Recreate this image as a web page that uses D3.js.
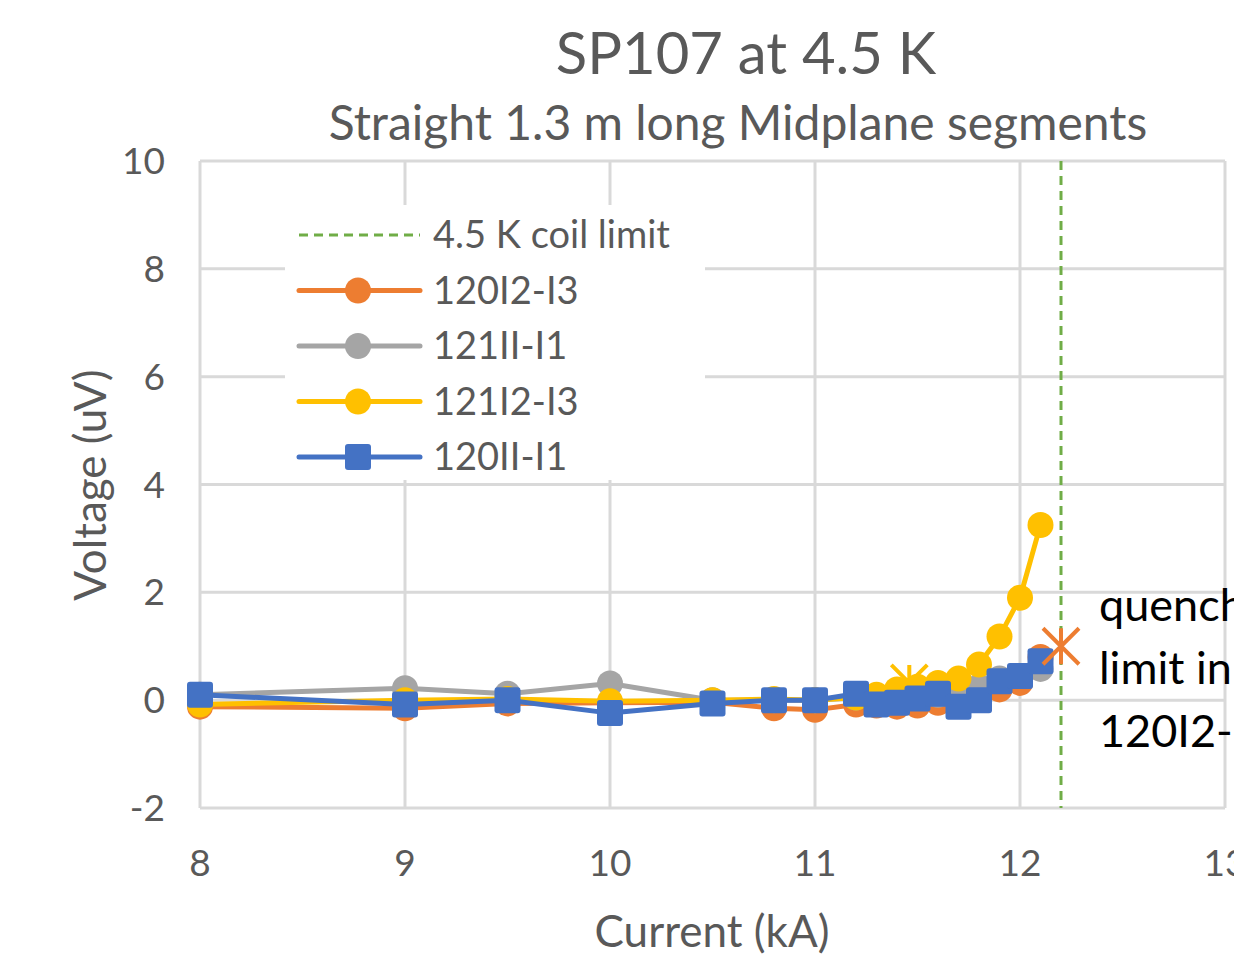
<!DOCTYPE html>
<html>
<head>
<meta charset="utf-8">
<script src="https://cdn.jsdelivr.net/npm/d3@7"></script>
<style>
  body { margin: 0; background: #fff; }
  text { font-family: Lato, "Open Sans", sans-serif; }
</style>
</head>
<body>
<svg id="chart"></svg>
<script>
// current steps (kA), shared by all segments
const current = [8, 9, 9.5, 10, 10.5, 10.8, 11, 11.2, 11.3, 11.4, 11.5, 11.6, 11.7, 11.8, 11.9, 12.0, 12.1];

// voltage readings (uV)
const v120I2I3 = [-0.12, -0.15, -0.06, -0.05, -0.04, -0.15, -0.18, -0.08, -0.1, -0.12, -0.1, -0.05, -0.08, 0.05, 0.2, 0.32, 0.8];
const v121I1I1 = [0.1, 0.22, 0.12, 0.31, 0.0, 0.0, 0.0, 0.05, 0.05, 0.06, 0.06, 0.1, 0.1, 0.25, 0.4, 0.45, 0.58];
const v121I2I3 = [-0.08, 0.0, 0.02, -0.02, 0.0, 0.02, 0.0, 0.05, 0.1, 0.2, 0.25, 0.32, 0.4, 0.66, 1.18, 1.9, 3.25];
const v120I1I1 = [0.1, -0.08, 0.0, -0.24, -0.06, 0.0, 0.0, 0.12, -0.08, -0.05, 0.03, 0.12, -0.12, 0.0, 0.35, 0.45, 0.72];

const seriesNames = ["120I2-I3", "121II-I1", "121I2-I3", "120II-I1"];
const seriesColors = ["#ED7D31", "#A5A5A5", "#FFC000", "#4472C4"];
const seriesShapes = ["circle", "circle", "circle", "square"];
const seriesValues = [v120I2I3, v121I1I1, v121I2I3, v120I1I1];

const coilLimit = 12.2;   // 4.5 K coil limit (kA)
const quenchMarks = [
    { x: 11.46, y: 0.32, color: "#FFC000" },
    { x: 12.2, y: 1.0, color: "#ED7D31" }
];
const quenchNote = ["quench", "limit in", "120I2-I3"];

const xTicks = [8, 9, 10, 11, 12, 13];
const yTicks = [-2, 0, 2, 4, 6, 8, 10];

const width = 1234, height = 967;
const margin = { top: 161, right: 9, bottom: 159, left: 200 };

const svg = d3.select("#chart")
    .attr("width", width)
    .attr("height", height);

svg.append("rect").attr("width", width).attr("height", height).attr("fill", "#fff");

const x = d3.scaleLinear().domain([8, 13]).range([margin.left, width - margin.right]);
const y = d3.scaleLinear().domain([-2, 10]).range([height - margin.bottom, margin.top]);

const grid = svg.append("g");
// vertical gridlines
grid.selectAll(".vg")
    .data(xTicks)
    .join("line")
    .attr("x1", d => x(d)).attr("x2", d => x(d))
    .attr("y1", y(10)).attr("y2", y(-2))
    .attr("stroke", "#d9d9d9").attr("stroke-width", 3);
// horizontal gridlines
grid.selectAll(".hg")
    .data(yTicks)
    .join("line")
    .attr("x1", x(8)).attr("x2", x(13))
    .attr("y1", d => y(d)).attr("y2", d => y(d))
    .attr("stroke", "#d9d9d9").attr("stroke-width", 3);

// tick labels
svg.append("g")
    .selectAll("text")
    .data(xTicks)
    .join("text")
    .attr("x", d => x(d))
    .attr("y", y(-2) + 68)
    .attr("text-anchor", "middle")
    .attr("font-size", 37)
    .attr("fill", "#595959")
    .text(d => d);

svg.append("g")
    .selectAll("text")
    .data(yTicks)
    .join("text")
    .attr("x", x(8) - 35)
    .attr("y", d => y(d) + 13)
    .attr("text-anchor", "end")
    .attr("font-size", 37)
    .attr("fill", "#595959")
    .text(d => d);

// titles
svg.append("text")
    .attr("x", 746).attr("y", 74)
    .attr("text-anchor", "middle")
    .attr("font-size", 58)
    .attr("fill", "#595959")
    .text("SP107 at 4.5 K");

svg.append("text")
    .attr("x", 738).attr("y", 140)
    .attr("text-anchor", "middle")
    .attr("font-size", 48)
    .attr("fill", "#595959")
    .text("Straight 1.3 m long Midplane segments");

svg.append("text")
    .attr("x", 712).attr("y", 947)
    .attr("text-anchor", "middle")
    .attr("font-size", 44)
    .attr("fill", "#595959")
    .text("Current (kA)");

svg.append("text")
    .attr("transform", "translate(106, 485) rotate(-90)")
    .attr("text-anchor", "middle")
    .attr("font-size", 44)
    .attr("fill", "#595959")
    .text("Voltage (uV)");

// legend box sits on top of gridlines
const legend = svg.append("g");
legend.append("rect")
    .attr("x", 285).attr("y", 205)
    .attr("width", 420).attr("height", 275)
    .attr("fill", "#fff");

// coil limit line
svg.append("line")
    .attr("x1", x(coilLimit)).attr("x2", x(coilLimit))
    .attr("y1", y(10)).attr("y2", y(-2))
    .attr("stroke", "#70AD47").attr("stroke-width", 3)
    .attr("stroke-dasharray", "9,6");

const line = d3.line()
    .x(d => x(d[0]))
    .y(d => y(d[1]));

function drawMarker(g, shape, color, cx, cy, r) {
    if (shape === "square") {
        g.append("rect")
            .attr("x", cx - r).attr("y", cy - r)
            .attr("width", 2 * r).attr("height", 2 * r)
            .attr("rx", 3)
            .attr("fill", color);
    } else {
        g.append("circle")
            .attr("cx", cx).attr("cy", cy).attr("r", r)
            .attr("fill", color);
    }
}

function drawStar(g, color, cx, cy) {
    const s = 18;
    g.append("path")
        .attr("d", `M${cx - s},${cy - s}L${cx + s},${cy + s}M${cx + s},${cy - s}L${cx - s},${cy + s}M${cx},${cy - s}L${cx},${cy + s}`)
        .attr("stroke", color)
        .attr("stroke-width", 4)
        .attr("fill", "none");
}

const plot = svg.append("g");
seriesNames.forEach((name, i) => {
    const pts = current.map((c, j) => [c, seriesValues[i][j]]);
    const g = plot.append("g");
    if (i === 3) drawStar(g, quenchMarks[0].color, x(quenchMarks[0].x), y(quenchMarks[0].y));
    g.append("path")
        .datum(pts)
        .attr("d", line)
        .attr("fill", "none")
        .attr("stroke", seriesColors[i])
        .attr("stroke-width", 5)
        .attr("stroke-linejoin", "round");
    pts.forEach(p => {
        drawMarker(g, seriesShapes[i], seriesColors[i], x(p[0]), y(p[1]), 13);
    });
});

drawStar(plot, quenchMarks[1].color, x(quenchMarks[1].x), y(quenchMarks[1].y));

// quench note (runs past the right edge, as in the original crop)
svg.append("g")
    .selectAll("text")
    .data(quenchNote)
    .join("text")
    .attr("x", 1099)
    .attr("y", (d, i) => 621 + i * 63)
    .attr("font-size", 45)
    .attr("fill", "#000")
    .text(d => d);

// legend entries
const legendItems = [{ name: "4.5 K coil limit", color: "#70AD47", dashed: true }]
    .concat(seriesNames.map((n, i) => ({ name: n, color: seriesColors[i], shape: seriesShapes[i] })));

legendItems.forEach((d, i) => {
    const ly = 235 + i * 55.5;
    const g = legend.append("g");
    g.append("line")
        .attr("x1", 299).attr("x2", 420)
        .attr("y1", ly).attr("y2", ly)
        .attr("stroke", d.color)
        .attr("stroke-width", d.dashed ? 3 : 5)
        .attr("stroke-dasharray", d.dashed ? "9,6" : null)
        .attr("stroke-linecap", d.dashed ? "butt" : "round");
    if (!d.dashed) drawMarker(g, d.shape, d.color, 358, ly, 13);
    g.append("text")
        .attr("x", 433).attr("y", ly + 13)
        .attr("font-size", 38)
        .attr("fill", "#595959")
        .text(d.name);
});
</script>
</body>
</html>
